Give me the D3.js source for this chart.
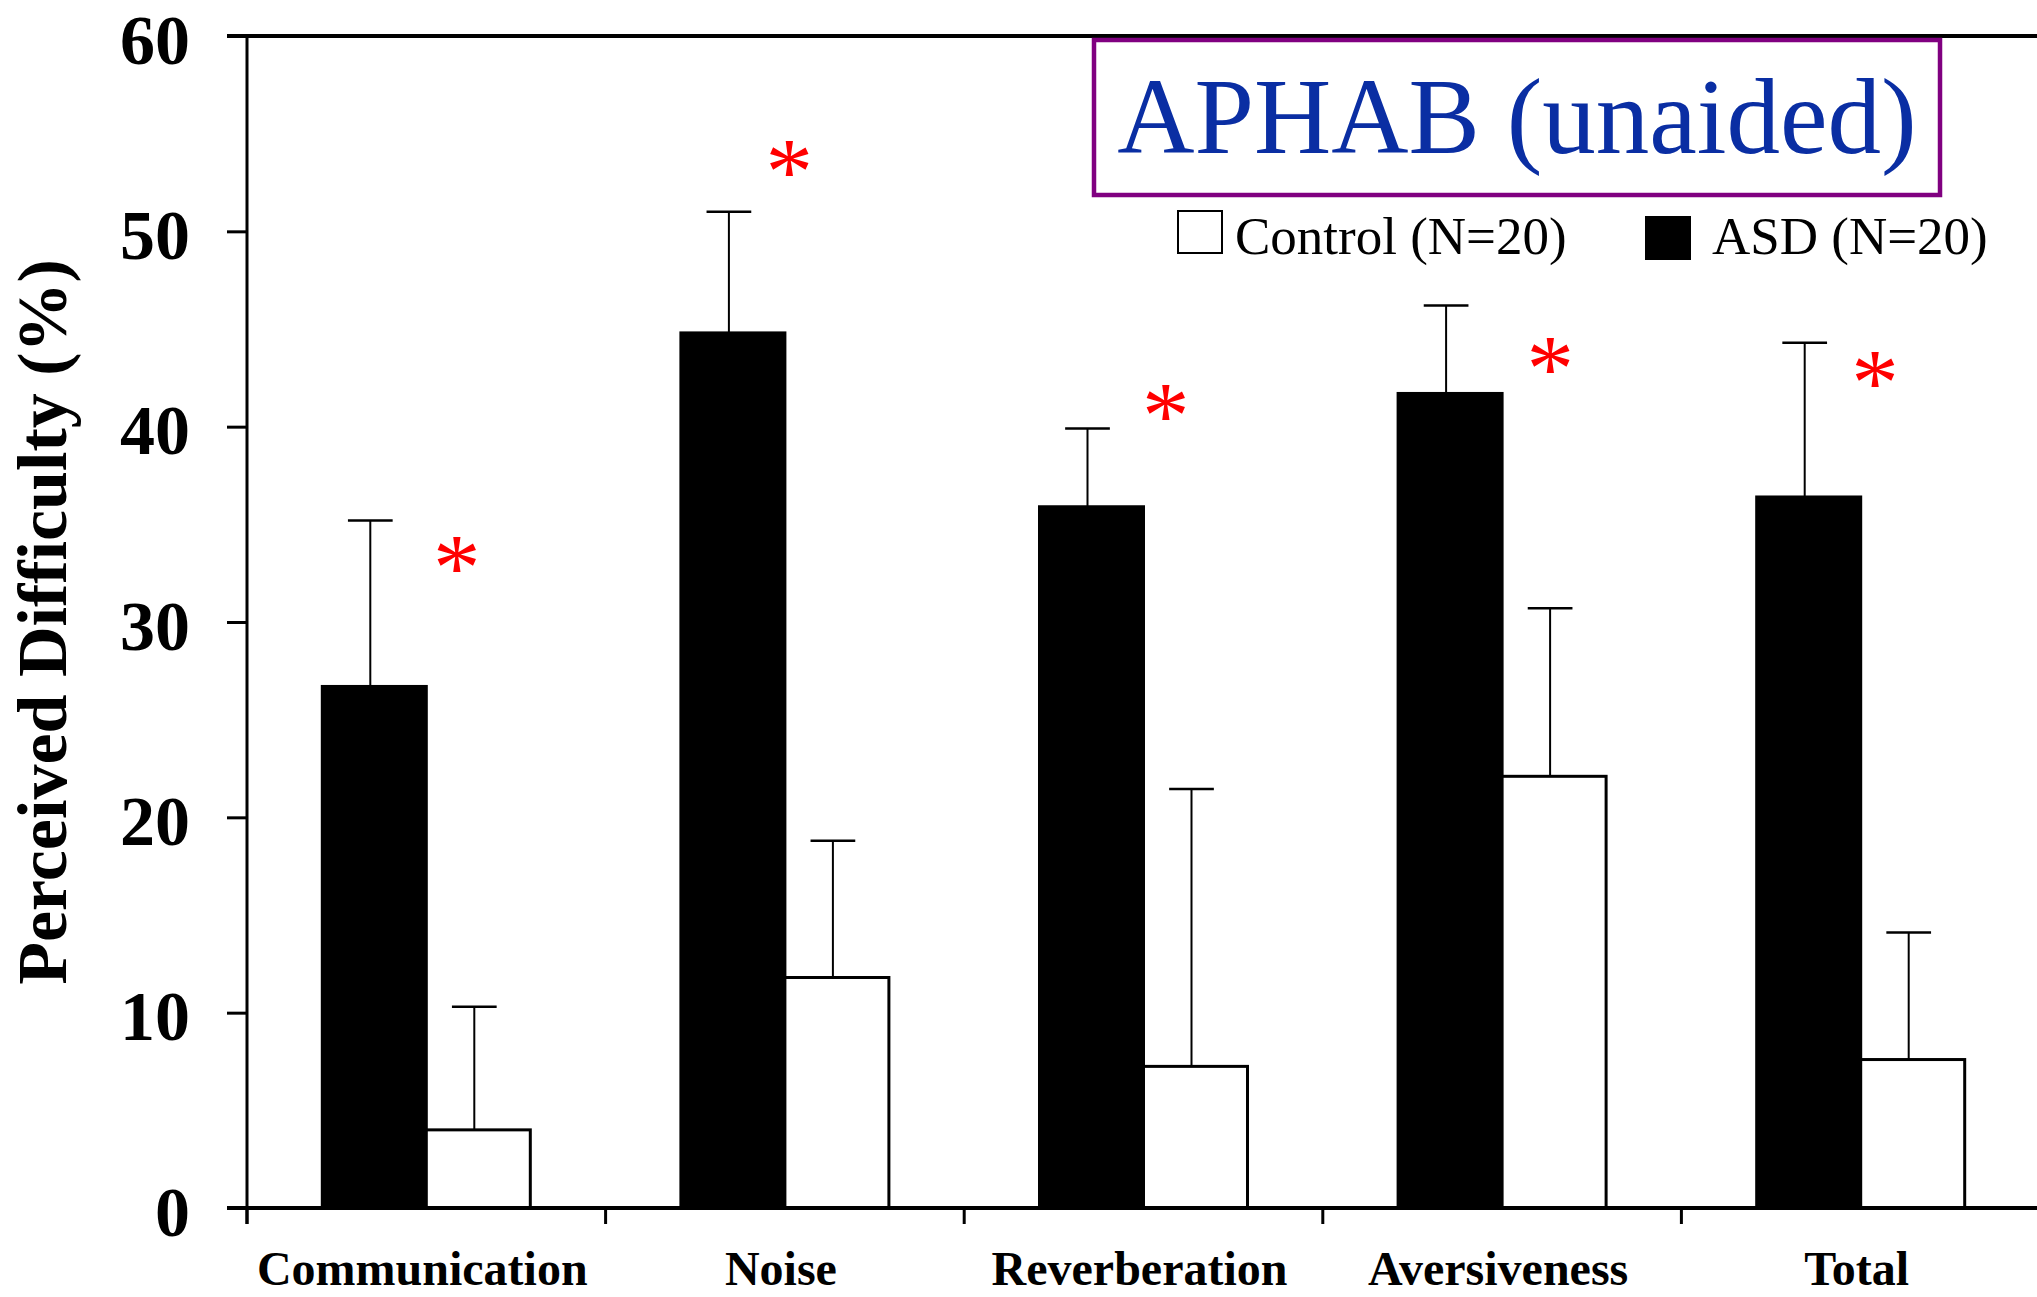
<!DOCTYPE html>
<html>
<head>
<meta charset="utf-8">
<script src="https://cdn.jsdelivr.net/npm/d3@7"></script>
<style>
  html, body { margin: 0; padding: 0; background: #fff; }
  svg { display: block; }
  text { font-family: "Liberation Serif", "Times New Roman", Times, serif; }
</style>
</head>
<body>
<svg id="chart" width="2037" height="1297"></svg>
<script>
// APHAB (unaided) subscale scores, mean and SD, by group
const categories = ["Communication", "Noise", "Reverberation", "Aversiveness", "Total"];
const seriesNames = ["ASD (N=20)", "Control (N=20)"];
const asdMean = [26.7, 44.8, 35.9, 41.7, 36.4];
const asdSD = [8.5, 6.2, 4.0, 4.5, 7.9];
const controlMean = [4.0, 11.8, 7.25, 22.1, 7.6];
const controlSD = [6.3, 7.0, 14.2, 8.6, 6.5];
// significance markers: value height and horizontal shift (fraction of a category band)
const starLevel = [33.4, 53.7, 41.2, 43.6, 42.9];
const starShift = [0.085, 0.012, 0.062, 0.134, 0.04];
const yTicks = [0, 10, 20, 30, 40, 50, 60];

const svg = d3.select("#chart");
const W = 2037, H = 1297;
const m = { left: 247, top: 36, bottom: 1208, right: 2040 };

const x = d3.scaleBand().domain(categories).range([m.left, m.right]).padding(0);
const xs = d3.scaleBand().domain(seriesNames).range([0, x.bandwidth()])
  .paddingInner(0).paddingOuter(0.724);
const y = d3.scaleLinear().domain([0, 60]).range([m.bottom, m.top]);

const rows = categories.map((c, i) => ({
  cat: c,
  bars: [
    { s: seriesNames[0], v: asdMean[i], sd: asdSD[i], fill: "#000" },
    { s: seriesNames[1], v: controlMean[i], sd: controlSD[i], fill: "#fff" }
  ]
}));

// bars
const g = svg.append("g");
const groups = g.selectAll("g.grp").data(rows).join("g")
  .attr("class", "grp")
  .attr("transform", d => `translate(${x(d.cat)},0)`);

// error bars (drawn first so bar tops cover the stem base)
const capW = xs.bandwidth() * 0.43;
groups.selectAll("g.err").data(d => d.bars).join("g").attr("class", "err")
  .each(function (d) {
    const cx = xs(d.s) + xs.bandwidth() / 2 - 4;
    const e = d3.select(this);
    e.append("line").attr("x1", cx).attr("x2", cx)
      .attr("y1", y(d.v)).attr("y2", y(d.v + d.sd))
      .attr("stroke", "#000").attr("stroke-width", 2);
    e.append("line").attr("x1", cx - capW / 2).attr("x2", cx + capW / 2)
      .attr("y1", y(d.v + d.sd)).attr("y2", y(d.v + d.sd))
      .attr("stroke", "#000").attr("stroke-width", 2.5);
  });

groups.selectAll("rect").data(d => d.bars).join("rect")
  .attr("x", d => xs(d.s))
  .attr("y", d => y(d.v))
  .attr("width", xs.bandwidth())
  .attr("height", d => y(0) - y(d.v))
  .attr("fill", d => d.fill)
  .attr("stroke", "#000")
  .attr("stroke-width", 3);

// axes
const yAxis = d3.axisLeft(y).tickValues(yTicks).tickSize(20).tickPadding(37);
const ya = svg.append("g").attr("transform", `translate(${m.left},0)`).call(yAxis);
ya.select(".domain").remove();
ya.selectAll(".tick line").attr("stroke", "#000").attr("stroke-width", 3);
ya.selectAll(".tick text")
  .attr("font-family", "'Liberation Serif', 'Times New Roman', serif")
  .attr("font-size", 70).attr("font-weight", "bold").attr("fill", "#000")
  .attr("dy", "0.39em");

const xa = svg.append("g").attr("transform", `translate(0,${m.bottom})`)
  .call(d3.axisBottom(x).tickSize(0).tickFormat(""));
xa.select(".domain").remove();

// boundary ticks between categories
const bounds = categories.map(c => x(c));
svg.append("g").selectAll("line").data(bounds).join("line")
  .attr("x1", d => d).attr("x2", d => d)
  .attr("y1", m.bottom).attr("y2", m.bottom + 16)
  .attr("stroke", "#000").attr("stroke-width", 3);

// category labels
svg.append("g").selectAll("text").data(categories).join("text")
  .attr("x", d => x(d) + x.bandwidth() / 2 - 4)
  .attr("y", 1285)
  .attr("text-anchor", "middle")
  .attr("font-size", 48).attr("font-weight", "bold")
  .text(d => d);

// frame lines: left axis, baseline, top rule
svg.append("line").attr("x1", m.left).attr("x2", m.left)
  .attr("y1", m.top).attr("y2", m.bottom + 16)
  .attr("stroke", "#000").attr("stroke-width", 3);
svg.append("line").attr("x1", m.left - 20).attr("x2", W)
  .attr("y1", m.bottom).attr("y2", m.bottom)
  .attr("stroke", "#000").attr("stroke-width", 4);
svg.append("line").attr("x1", m.left - 20).attr("x2", W)
  .attr("y1", m.top).attr("y2", m.top)
  .attr("stroke", "#000").attr("stroke-width", 4);

// y axis title
svg.append("text")
  .attr("transform", `translate(66,${(m.top + m.bottom) / 2}) rotate(-90)`)
  .attr("text-anchor", "middle")
  .attr("font-size", 70).attr("font-weight", "bold")
  .text("Perceived Difficulty (%)");

// significance asterisks
const starSize = 95;
svg.append("g").selectAll("text").data(categories).join("text")
  .attr("x", (d, i) => x(d) + x.bandwidth() * (0.5 + starShift[i]))
  .attr("y", (d, i) => y(starLevel[i]) + starSize * 0.47)
  .attr("text-anchor", "middle")
  .attr("font-size", starSize)
  .attr("fill", "#ff0000")
  .text("*");

// title box
svg.append("rect")
  .attr("x", 1094).attr("y", 40).attr("width", 846).attr("height", 155)
  .attr("fill", "#fff").attr("stroke", "#800080").attr("stroke-width", 4.5);
svg.append("text")
  .attr("x", 1517).attr("y", 153)
  .attr("text-anchor", "middle")
  .attr("font-size", 107).attr("fill", "#0a2ea3")
  .text("APHAB (unaided)");

// legend
const legend = [
  { name: seriesNames[1], fill: "#fff", sx: 1178, sy: 211, tx: 1235 },
  { name: seriesNames[0], fill: "#000", sx: 1646, sy: 217, tx: 1712 }
];
const lg = svg.append("g");
lg.selectAll("rect").data(legend).join("rect")
  .attr("x", d => d.sx).attr("y", d => d.sy)
  .attr("width", 44).attr("height", 42)
  .attr("fill", d => d.fill).attr("stroke", "#000").attr("stroke-width", 2);
lg.selectAll("text").data(legend).join("text")
  .attr("x", d => d.tx).attr("y", 254)
  .attr("font-size", 53)
  .text(d => d.name);
</script>
</body>
</html>
